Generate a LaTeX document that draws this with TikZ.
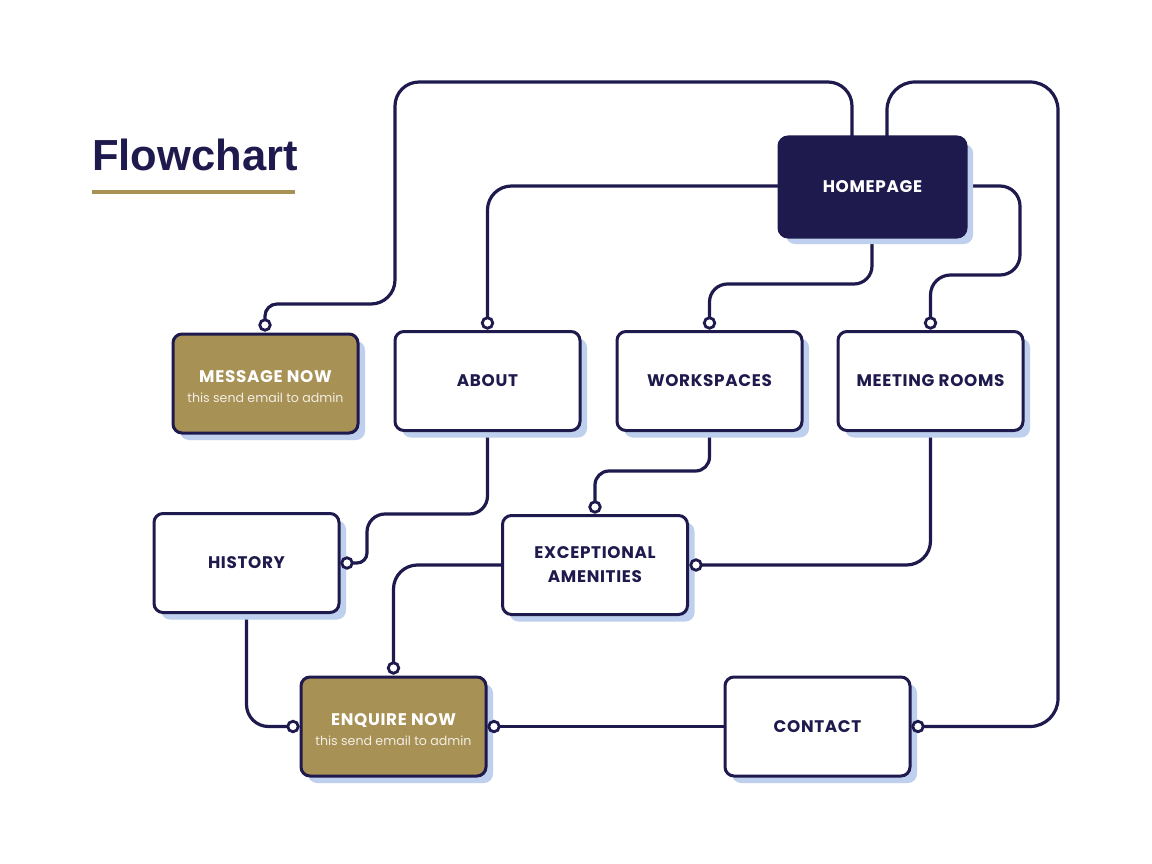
\documentclass[tikz,border=0pt]{standalone}
\usepackage{fontspec}
\setmainfont{Poppins}
\newfontfamily\titlefont{Liberation Sans}
\usetikzlibrary{calc,shadows}
\definecolor{navy}{HTML}{1E1A4D}
\definecolor{gold}{HTML}{A89155}
\definecolor{shadowc}{HTML}{BFCFEE}
\newcommand{\subtxt}[1]{{\normalfont\fontsize{12.6}{14}\selectfont\color{white!85!gold}#1}}
\tikzset{
  box/.style={rectangle, rounded corners=9pt, minimum width=185pt, minimum height=99pt,
    line width=3pt, draw=navy, fill=white, text=navy, align=center,
    font=\fontsize{16.8}{24}\selectfont\bfseries\addfontfeatures{LetterSpace=4},
    drop shadow={shadow xshift=7pt, shadow yshift=-7pt, fill=shadowc, opacity=1}},
  goldbox/.style={box, fill=gold, text=white},
  navybox/.style={box, fill=navy, text=white},
  conn/.style={line width=3.2pt, draw=navy, rounded corners=24pt},
  port/.style={circle, draw=navy, fill=white, line width=2.8pt, inner sep=0pt, minimum size=10.5pt}
}
\begin{document}
\begin{tikzpicture}[x=1pt,y=-1pt]
\useasboundingbox (0,0) rectangle (1152,864);
\fill[white] (0,0) rectangle (1152,864);

% title
\node[anchor=base west, inner sep=0pt, text=navy, font=\titlefont\fontsize{43.5}{48}\selectfont\bfseries] (title) at (92,171) {Flowchart};
\draw[gold, line width=4pt] (92,192) -- (295,192);

% port positions
\coordinate (pmsg) at (265,325);
\coordinate (pabout) at (487.5,323);
\coordinate (pwork) at (709.5,323);
\coordinate (pmeet) at (930.5,323);
\coordinate (phist) at (347,563);
\coordinate (pexctop) at (595,507);
\coordinate (pexcr) at (696,565);
\coordinate (penqtop) at (393.5,668);
\coordinate (penql) at (293,726.5);
\coordinate (penqr) at (494,726.5);
\coordinate (pcontact) at (918,726.5);

% connectors
\draw[conn] (852,150) -- (852,82) -- (395,82) -- (395,304) [rounded corners=12pt] -- (265,304) -- (pmsg);
\draw[conn, rounded corners=28pt] (887,150) -- (887,82) -- (1058,82) -- (1058,726.5) -- (pcontact);
\draw[conn] (800,186) -- (487.5,186) -- (pabout);
\draw[conn, rounded corners=18pt] (872,200) -- (872,284) -- (709.5,284) -- (pwork);
\draw[conn, rounded corners=20pt] (940,186) -- (1020,186) -- (1020,275) -- (930.5,275) -- (pmeet);
\draw[conn, rounded corners=18pt] (487.5,420) -- (487.5,514) -- (367,514) [rounded corners=10pt] -- (367,563) -- (phist);
\draw[conn, rounded corners=14pt] (709.5,420) -- (709.5,471) -- (595,471) -- (pexctop);
\draw[conn] (930.5,420) -- (930.5,565) -- (pexcr);
\draw[conn] (520,565) -- (393.5,565) -- (penqtop);
\draw[conn, rounded corners=22pt] (246.5,600) -- (246.5,726.5) -- (penql);
\draw[conn] (740,726.5) -- (penqr);

% boxes
\node[navybox, minimum width=187pt, minimum height=100pt] (home) at (872.5,187) {HOMEPAGE};
\node[goldbox] (msg) at (265.5,383.5) {\rule{0pt}{18pt}MESSAGE NOW\\[-4pt]\subtxt{this send email to admin}};
\node[box] (about) at (487.5,381) {ABOUT};
\node[box] (work) at (709.5,381) {WORKSPACES};
\node[box] (meet) at (930.5,381) {MEETING ROOMS};
\node[box] (hist) at (246.5,563) {HISTORY};
\node[box] (exc) at (595,565) {EXCEPTIONAL\\AMENITIES};
\node[goldbox] (enq) at (393.5,726.5) {\rule{0pt}{18pt}ENQUIRE NOW\\[-4pt]\subtxt{this send email to admin}};
\node[box] (contact) at (817.5,726.5) {CONTACT};

% ports
\foreach \p in {pmsg,pabout,pwork,pmeet,phist,pexctop,pexcr,penqtop,penql,penqr,pcontact}
  \node[port] (\p-c) at (\p) {};
\end{tikzpicture}
\end{document}
